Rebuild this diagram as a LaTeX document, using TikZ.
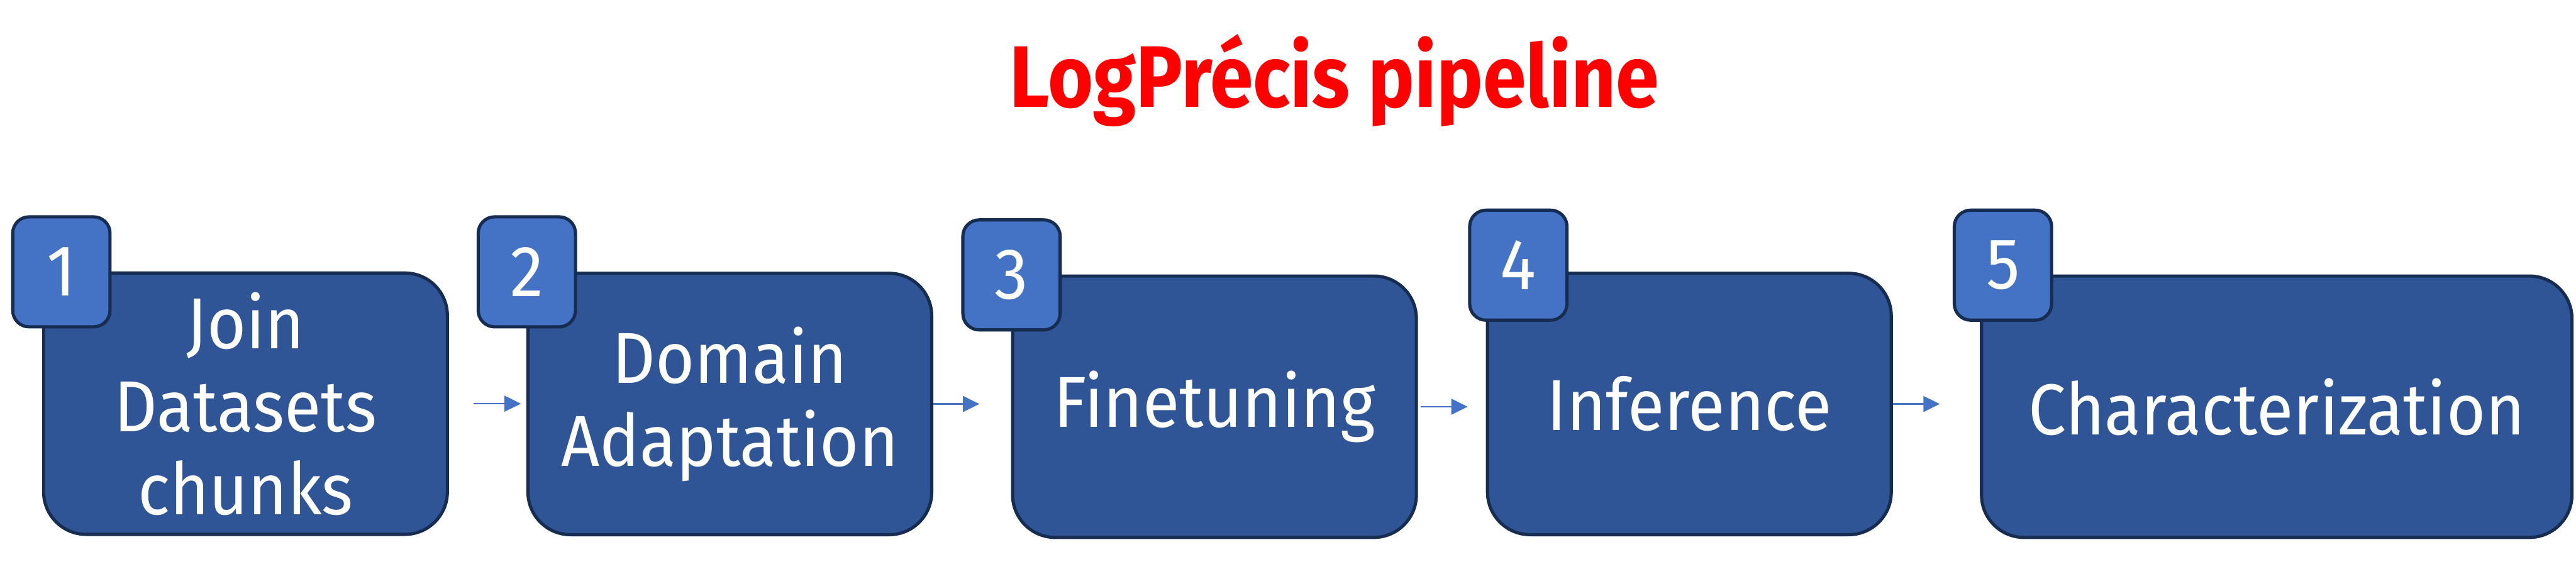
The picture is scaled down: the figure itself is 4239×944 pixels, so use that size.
\documentclass[tikz,border=0pt]{standalone}
\usepackage{fontspec}
\setmainfont{Fira Sans}[FakeStretch=0.93]
\newfontfamily\titlefont{Fira Sans}[UprightFont={* Bold}, FakeStretch=0.89]
\usetikzlibrary{arrows.meta}

\definecolor{stagefill}{HTML}{2F5597}
\definecolor{badgefill}{HTML}{4472C4}
\definecolor{stageline}{HTML}{172C51}

\begin{document}
\begin{tikzpicture}[x=0.01cm, y=-0.01cm,
    stage/.style={draw=stageline, line width=1.5pt, fill=stagefill,
      rounded corners=0.7cm, text=white, align=center, inner sep=0pt,
      minimum height=4.3cm, font=\fontsize{33.8}{38.9}\selectfont},
    badge/.style={draw=stageline, line width=1.5pt, fill=badgefill,
      rounded corners=0.27cm, text=white, inner sep=0pt,
      minimum width=1.6cm, minimum height=1.81cm,
      font=\fontsize{33.8}{38.9}\selectfont},
    flow/.style={draw=badgefill, line width=0.7pt,
      -{Triangle[length=0.27cm, width=0.26cm]}}]
  \useasboundingbox (0,0) rectangle (4239,944);

  \node[text=red, anchor=base, font=\titlefont\fontsize{40.9}{45}\selectfont]
    (title) at (2196,176) {LogPrécis pipeline};

  % stages
  \foreach \n/\x/\y/\w/\txt in {1/404/664.5/6.64/{Join\\Datasets\\chunks},
      2/1201/665/6.64/{Domain\\Adaptation}, 3/1998.5/669.5/6.64/{Finetuning},
      4/2780/665/6.64/{Inference}, 5/3746.5/669.5/9.71/{Characterization}}
    \node[stage, minimum width=\w cm] (s\n) at (\x,\y) {\txt};

  % number badges
  \foreach \n/\x/\y in {1/101/447.5, 2/867/447.5, 3/1664.5/452.5,
      4/2498.5/436.5, 5/3296/436.5}
    \node[badge] (b\n) at (\x,\y) {\n};

  % arrows
  \foreach \a/\b/\s/\e in {s1/s2/0.4/0.09, s2/s3/0/0.52, s3/s4/0.04/0.3,
      s4/s5/0/0.66}
    \draw[flow, shorten <=\s cm, shorten >=\e cm] (\a.east) -- (\a.east -| \b.west);
\end{tikzpicture}
\end{document}
